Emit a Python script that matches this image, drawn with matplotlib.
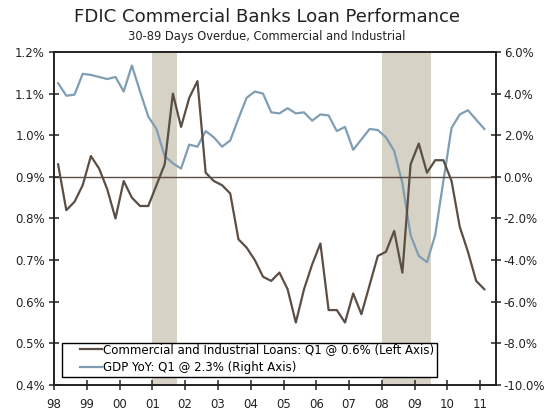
import numpy as np
import pandas as pd
import matplotlib
matplotlib.use('Agg')
import matplotlib.pyplot as plt
from matplotlib.patches import Rectangle

# Quarterly data, 1998Q1 - 2011Q1
quarters = pd.period_range('1998Q1', '2011Q1', freq='Q')

# C&I loans 30-89 days overdue (% , left axis)
ci_loans = [0.93, 0.82, 0.84, 0.88, 0.95, 0.92, 0.87, 0.80, 0.89, 0.85,
            0.83, 0.83, 0.88, 0.93, 1.10, 1.02, 1.09, 1.13, 0.91, 0.89,
            0.88, 0.86, 0.75, 0.73, 0.70, 0.66, 0.65, 0.67, 0.63, 0.55,
            0.63, 0.69, 0.74, 0.58, 0.58, 0.55, 0.62, 0.57, 0.64, 0.71,
            0.72, 0.77, 0.67, 0.93, 0.98, 0.91, 0.94, 0.94, 0.89, 0.78,
            0.72, 0.65, 0.63]

# GDP year-over-year (%, right axis)
gdp_yoy = [4.5, 3.9, 3.95, 4.95, 4.9, 4.8, 4.7, 4.8, 4.1, 5.35,
           4.1, 2.9, 2.3, 1.0, 0.65, 0.4, 1.55, 1.45, 2.2, 1.9,
           1.45, 1.75, 2.8, 3.8, 4.1, 4.0, 3.1, 3.05, 3.3, 3.05,
           3.1, 2.7, 3.0, 2.95, 2.2, 2.4, 1.3, 1.8, 2.3, 2.25,
           1.9, 1.25, -0.3, -2.8, -3.8, -4.1, -2.8, -0.2, 2.35, 3.0,
           3.2, 2.75, 2.3]

# recessions (start, end) in years
recessions = [(2001.0, 2001.75), (2008.0, 2009.5)]

year_ticks = list(range(1998, 2012))
year_labels = ['98', '99', '00', '01', '02', '03', '04', '05', '06', '07',
               '08', '09', '10', '11']

x = quarters.year + (quarters.quarter - 0.5) / 4.0

brown = '#5b4e44'
blue = '#7f9eb4'
shade = '#d6d2c5'

fig = plt.figure(figsize=(5.5, 4.11), dpi=100)
ax = fig.add_axes([0.0982, 0.0633, 0.8036, 0.8102])
ax2 = ax.twinx()

# shading and GDP on the lower axes, loans on top
for s, e in recessions:
    ax2.axvspan(s, e, color=shade, lw=0, zorder=0)

ax.axhline(0.9, color=brown, lw=1.0, zorder=1)

l2, = ax2.plot(x, gdp_yoy, color=blue, lw=1.6, zorder=3,
               label='GDP YoY: Q1 @ 2.3% (Right Axis)')
l1, = ax.plot(x, ci_loans, color=brown, lw=1.6, zorder=3,
              label='Commercial and Industrial Loans: Q1 @ 0.6% (Left Axis)')

ax.set_xlim(1998, 2011.48)
ax.set_ylim(0.4, 1.2)
ax2.set_ylim(-10, 6)

ax.set_yticks(np.arange(0.4, 1.21, 0.1))
ax.set_yticklabels(['%.1f%%' % v for v in np.arange(0.4, 1.21, 0.1)])
ax2.set_yticks(np.arange(-10, 6.1, 2))
ax2.set_yticklabels(['%.1f%%' % v for v in np.arange(-10, 6.1, 2)])
ax.set_xticks(year_ticks)
ax.set_xticklabels(year_labels)

for a in (ax, ax2):
    for sp in a.spines.values():
        sp.set_linewidth(1.2)
        sp.set_color('#222222')
    a.tick_params(direction='inout', length=7, width=1.1, labelsize=8.5,
                  colors='#222222', pad=3)
ax.tick_params(axis='x', pad=6)
ax2.tick_params(axis='y', pad=2)

ax.set_zorder(ax2.get_zorder() + 1)
ax.patch.set_visible(False)

# legend box drawn by hand, legend itself without frame
ax.add_patch(Rectangle((0.018, 0.024), 0.8485, 0.102, transform=ax.transAxes,
                       facecolor='white', edgecolor='black', lw=1.0,
                       zorder=4.5))
leg = ax.legend([l1, l2], [l1.get_label(), l2.get_label()],
                loc='lower left', bbox_to_anchor=(0.058, 0.032),
                borderaxespad=0, fontsize=8.5, frameon=False,
                handlelength=1.9, handletextpad=0.1, borderpad=0,
                labelspacing=0.45)
leg.set_zorder(5)

fig.text(0.485, 0.958, 'FDIC Commercial Banks Loan Performance',
         ha='center', va='center', fontsize=13.1, color='#222222')
fig.text(0.485, 0.912, '30-89 Days Overdue, Commercial and Industrial',
         ha='center', va='center', fontsize=8.3, color='#222222')

fig.savefig('out.png', dpi=100)
